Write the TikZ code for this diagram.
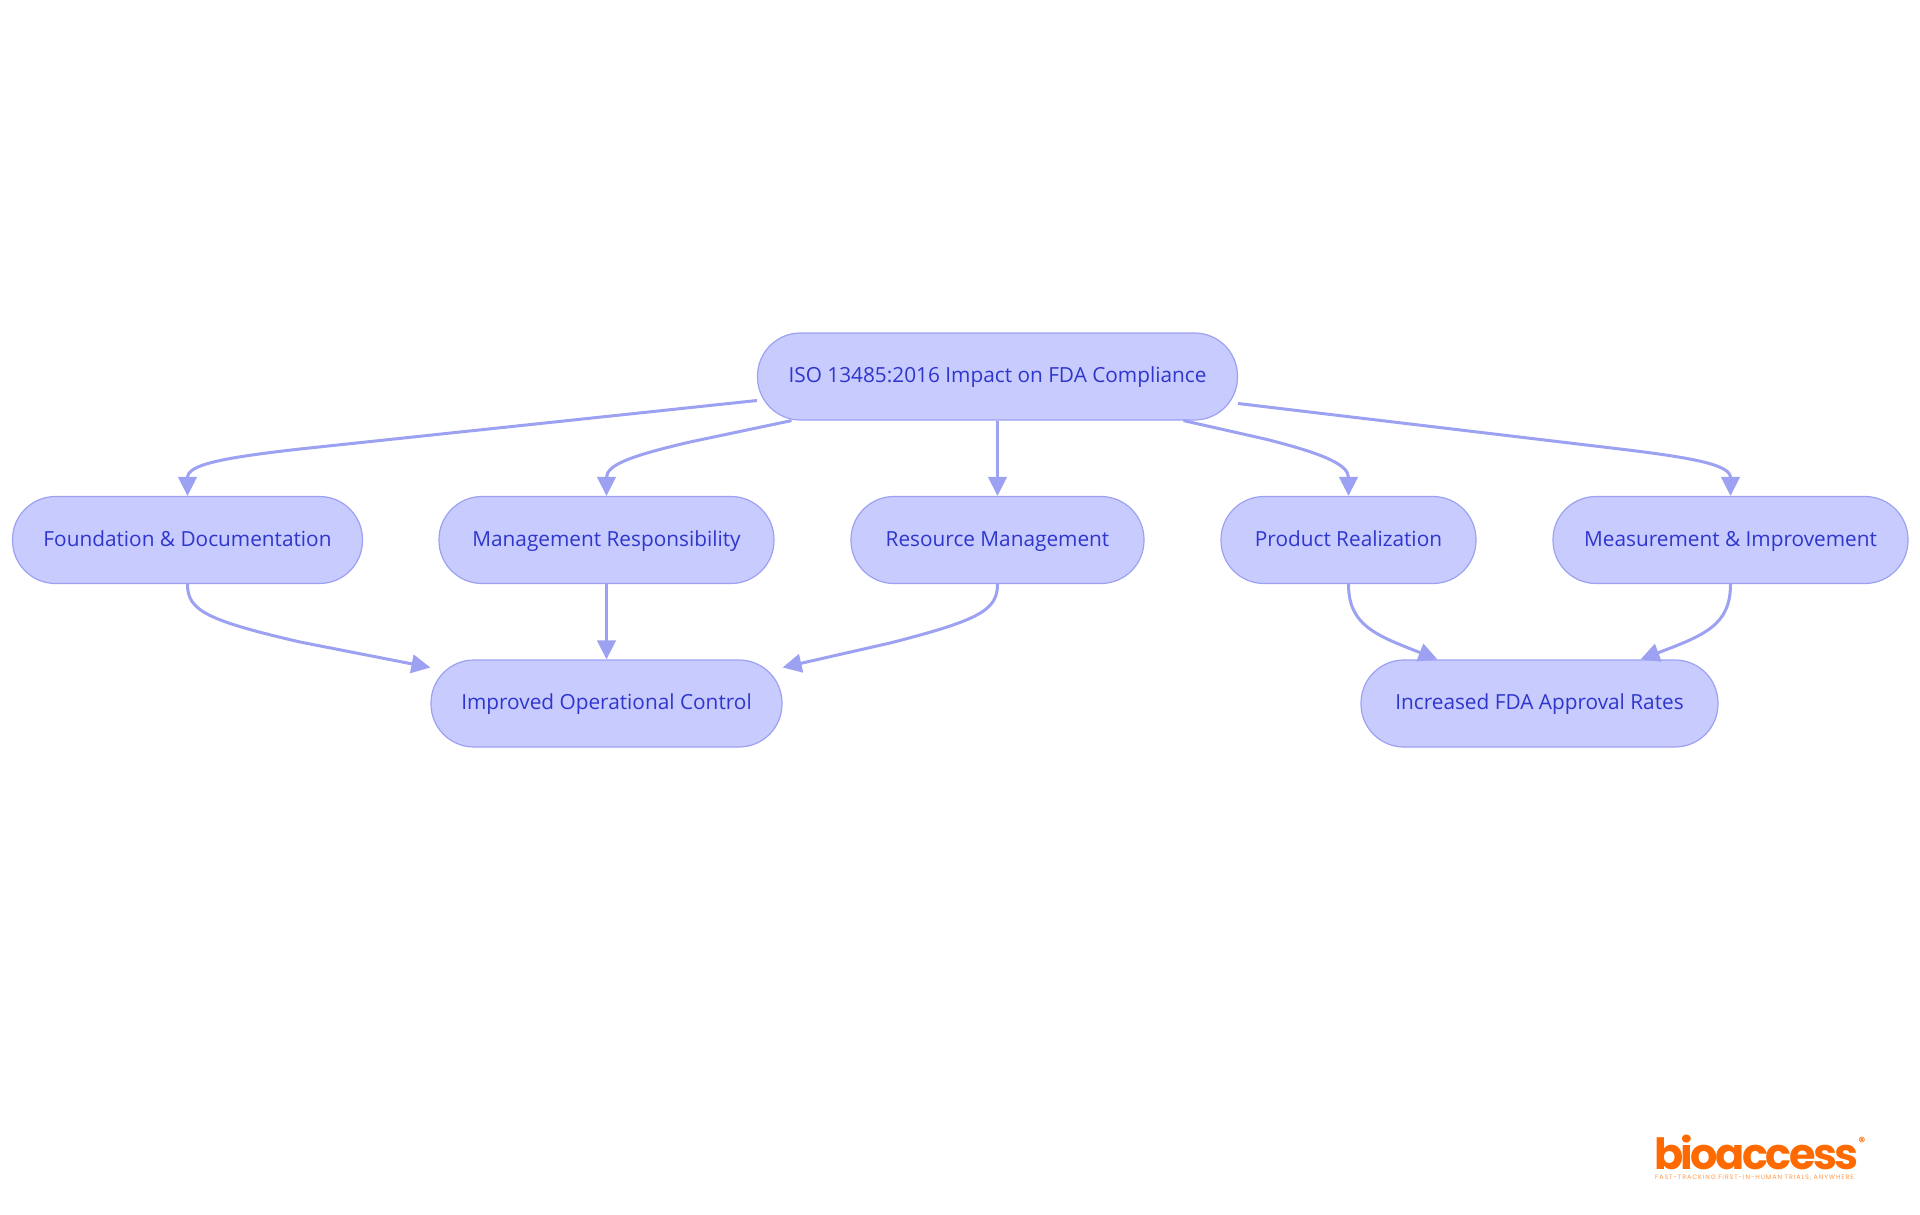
\documentclass[tikz,border=0pt]{standalone}
\usepackage{fontspec}
\usetikzlibrary{arrows.meta}
\setmainfont{Open Sans}
\newfontfamily\logofont[LetterSpace=-6]{Poppins}
\newfontfamily\markfont{Poppins}
\newfontfamily\tagfont[LetterSpace=14]{Poppins}
\definecolor{pillfill}{HTML}{C8CBFE}
\definecolor{pillline}{HTML}{9DA1F2}
\definecolor{pilltext}{HTML}{2F36CC}
\definecolor{logoorange}{HTML}{FF6A00}
\tikzset{
	pill/.style={draw=pillline,fill=pillfill,line width=1.2pt,rounded corners=43pt,minimum height=87pt,
		text=pilltext,font=\fontsize{20.8}{24}\selectfont,text height=16.4pt,text depth=4pt,inner sep=0pt},
	edge/.style={draw=pillline,line width=3pt,-{Triangle[length=19pt,width=18.5pt]}},
}
\begin{document}
\begin{tikzpicture}[x=1pt,y=-1pt]
	\useasboundingbox (0,0) rectangle (1920,1215);

	\node[pill,minimum width=480pt] (root) at (997.5,376.5) {ISO 13485:2016 Impact on FDA Compliance};
	\node[pill,minimum width=350pt] (found) at (187.5,540) {Foundation \& Documentation};
	\node[pill,minimum width=335pt] (mgmt) at (606.5,540) {Management Responsibility};
	\node[pill,minimum width=293pt] (res) at (997.5,540) {Resource Management};
	\node[pill,minimum width=255pt] (prod) at (1348.5,540) {Product Realization};
	\node[pill,minimum width=355pt] (meas) at (1730.5,540) {Measurement \& Improvement};
	\node[pill,minimum width=351pt] (oper) at (606.5,703.5) {Improved Operational Control};
	\node[pill,minimum width=357pt] (rates) at (1539.5,703.5) {Increased FDA Approval Rates};

	\draw[edge] ([yshift=-24pt]root.west) -- (300,449) .. controls (220,458) and (187.5,465) .. (found.north);
	\draw[edge] ([xshift=-206pt]root.south) -- (690,442) .. controls (630,456) and (606.5,465) .. (mgmt.north);
	\draw[edge] (root.south) -- (res.north);
	\draw[edge] ([xshift=186pt]root.south) -- (1265,439) .. controls (1325,454) and (1348.5,465) .. (prod.north);
	\draw[edge] ([yshift=-27pt]root.east) -- (1620,449) .. controls (1695,458) and (1730.5,465) .. (meas.north);

	\draw[edge] (found.south) .. controls (187.5,610) and (205,620) .. (300,642) -- ([yshift=36pt]oper.west);
	\draw[edge] (mgmt.south) -- (oper.north);
	\draw[edge] (res.south) .. controls (997.5,610) and (980,620) .. (890,643) -- ([yshift=36pt]oper.east);
	\draw[edge] (prod.south) .. controls (1348.5,625) and (1375,635) .. ([xshift=-102pt]rates.north);
	\draw[edge] (meas.south) .. controls (1730.5,625) and (1705,635) .. ([xshift=101pt]rates.north);

	\node[anchor=base west,inner sep=0pt,text=logoorange,font=\logofont\bfseries\fontsize{43}{43}\selectfont] (logo) at (1654,1169) {bioaccess};
	\node[anchor=center,inner sep=0pt,text=logoorange,font=\markfont\bfseries\fontsize{13}{13}\selectfont] (reg) at (1862,1142) {®};
	\node[anchor=base west,inner sep=0pt,text=logoorange!70,font=\tagfont\fontsize{6.4}{7}\selectfont] (tag) at (1655,1179) {FAST-TRACKING FIRST-IN-HUMAN TRIALS, ANYWHERE};
\end{tikzpicture}
\end{document}
